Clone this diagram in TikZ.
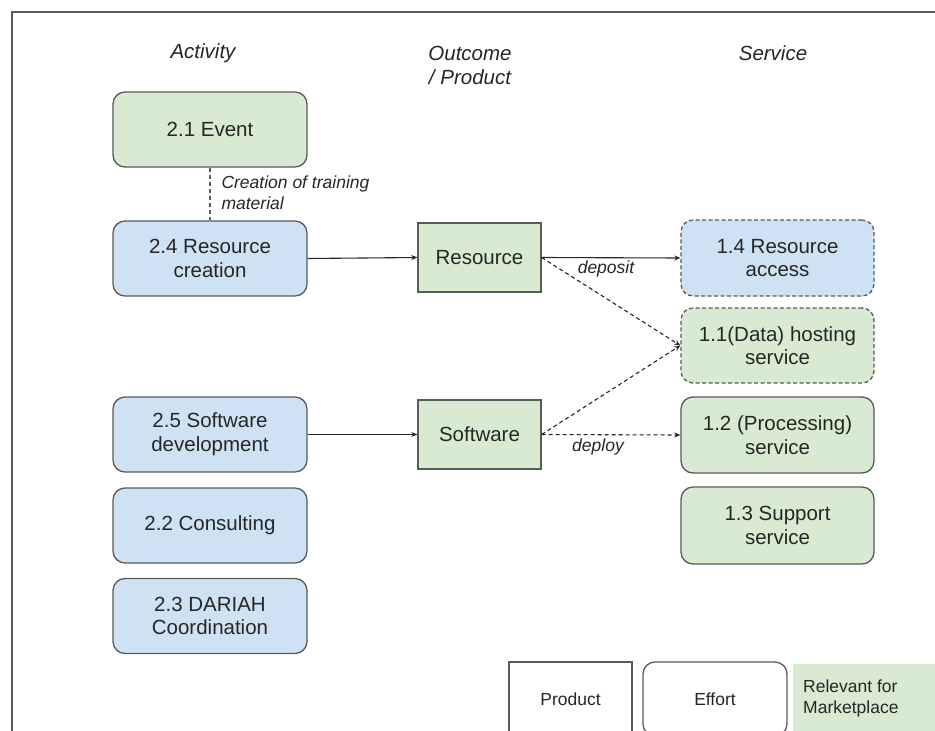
\documentclass[tikz,border=0pt]{standalone}
\usepackage{fontspec}
\setmainfont{Liberation Sans}
\usetikzlibrary{arrows.meta}
\definecolor{gfill}{HTML}{D9EAD3}
\definecolor{bfill}{HTML}{CFE2F3}
\definecolor{edgec}{HTML}{5A5A5A}
\definecolor{txt}{HTML}{262626}
\begin{document}
\begin{tikzpicture}[x=1pt,y=-1pt,
  every node/.style={text=txt},
  mainfont/.style={font=\fontsize{20.5}{23.6}\selectfont},
  smallfont/.style={font=\fontsize{17.5}{21}\selectfont\itshape},
  headfont/.style={font=\fontsize{20.5}{24}\selectfont\itshape},
  effort/.style={mainfont, draw=edgec, line width=1.3pt, rounded corners=12pt, minimum width=194pt, minimum height=75pt, align=center, inner sep=0pt},
  geffort/.style={effort, fill=gfill},
  beffort/.style={effort, fill=bfill},
  product/.style={mainfont, draw=edgec, line width=1.3pt, fill=gfill, minimum width=123pt, minimum height=69pt, align=center, inner sep=0pt},
  conn/.style={draw=txt, line width=1.1pt, -{Stealth[length=6pt,width=5pt]}},
  dconn/.style={conn, dash pattern=on 4pt off 3pt},
  legfont/.style={font=\fontsize{17.5}{21}\selectfont}
]
\clip (0,0) rectangle (935,731);
\fill[white] (0,0) rectangle (935,731);
% frame
\draw[edgec, line width=2pt] (12,740) -- (12,12) -- (945,12);

% headers
\node[headfont] (hact) at (203,53) {Activity};
\node[headfont, align=center] (hout) at (470,65) {Outcome\\/ Product};
\node[headfont] (hser) at (773,53) {Service};

% activities
\node[geffort] (ev) at (210,129.5) {2.1 Event};
\node[beffort] (rc) at (210,258.5) {2.4 Resource\\creation};
\node[beffort] (sd) at (210,434.5) {2.5 Software\\development};
\node[beffort] (cons) at (210,525.5) {2.2 Consulting};
\node[beffort] (dar) at (210,616) {2.3 DARIAH\\Coordination};

% products
\node[product] (res) at (479.5,257.5) {Resource};
\node[product] (sw) at (479.5,434.5) {Software};

% services
\node[beffort, dashed, dash pattern=on 4pt off 2.5pt, minimum width=193pt, minimum height=76pt] (ra) at (777.5,258) {1.4 Resource\\access};
\node[geffort, dash pattern=on 4pt off 2.5pt, minimum width=193pt] (dh) at (777.5,345.5) {1.1(Data) hosting\\service};
\node[geffort, minimum width=193pt, minimum height=76pt] (ps) at (777.5,435) {1.2 (Processing)\\service};
\node[geffort, minimum width=193pt, minimum height=77pt] (sup) at (777.5,525.5) {1.3 Support\\service};

% connectors
\draw[edgec, line width=1.1pt, dash pattern=on 4pt off 3pt] (ev.south) -- (rc.north);
\node[smallfont, anchor=west, align=left] (ctm) at (218,192.5) {Creation of training\\material};
\draw[conn] (rc.east) -- (res.west);
\draw[conn] (res.east) -- (ra.west);
\draw[conn] (sd.east) -- (sw.west);
\draw[dconn] (res.east) -- (dh.west);
\draw[dconn] (sw.east) -- (dh.west);
\draw[dconn] (sw.east) -- (ps.west);
\node[smallfont] (dep) at (606,269) {deposit};
\node[smallfont] (dpl) at (598,447) {deploy};

% legend
\node[legfont, draw=edgec, line width=1.3pt, minimum width=123pt, minimum height=74pt, inner sep=0pt] (lprod) at (570.5,699) {Product};
\node[legfont, draw=edgec, line width=1.3pt, rounded corners=12pt, minimum width=144pt, minimum height=74pt, inner sep=0pt] (leff) at (715,699) {Effort};
\fill[gfill] (793,664) rectangle (945,745);
\node[legfont, anchor=west, align=left, inner sep=0pt] (lrel) at (803,698) {Relevant for\\Marketplace};
\end{tikzpicture}
\end{document}
